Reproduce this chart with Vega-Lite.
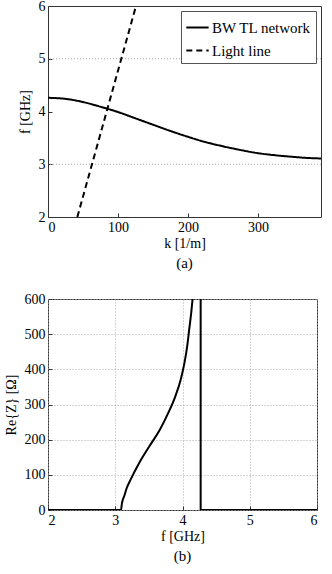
{
  "$schema": "https://vega.github.io/schema/vega-lite/v6.json",
  "padding": {"left": 3, "top": -2, "right": 0, "bottom": 0},
  "background": "white",
  "align": "none",
  "spacing": 19,
  "resolve": {"legend": {"strokeDash": "independent"}, "scale": {"x": "independent", "y": "independent"}},
  "config": {
    "font": "Liberation Serif",
    "view": {"stroke": "#333", "strokeWidth": 1},
    "axis": {
      "labelFont": "Liberation Serif", "labelFontSize": 14, "labelColor": "black",
      "titleFont": "Liberation Serif", "titleFontSize": 14, "titleFontWeight": "normal", "titleColor": "black",
      "domain": false, "tickColor": "#333", "tickSize": -4, "labelPadding": 7, "format": "d",
      "gridColor": "#aaa", "gridDash": [1, 2], "gridWidth": 1
    },
    "title": {"font": "Liberation Serif", "fontSize": 15, "fontWeight": "normal", "color": "black"}
  },
  "vconcat": [
    {
      "width": 273, "height": 211,
      "title": {"text": "(a)", "orient": "bottom", "offset": 6},
      "layer": [
        {
          "data": {"values": [{"g": 3}, {"g": 5}]},
          "mark": {"type": "rule", "color": "#aaa", "strokeDash": [1, 2], "strokeWidth": 1},
          "encoding": {"y": {"field": "g", "type": "quantitative", "scale": {"domain": [2, 6], "nice": false}}}
        },
        {
          "data": {"values": [
            {"k": 0, "f": 4.26, "series": "BW TL network"},
            {"k": 25, "f": 4.24, "series": "BW TL network"},
            {"k": 50, "f": 4.18, "series": "BW TL network"},
            {"k": 75, "f": 4.09, "series": "BW TL network"},
            {"k": 100, "f": 3.99, "series": "BW TL network"},
            {"k": 125, "f": 3.87, "series": "BW TL network"},
            {"k": 150, "f": 3.75, "series": "BW TL network"},
            {"k": 175, "f": 3.63, "series": "BW TL network"},
            {"k": 200, "f": 3.52, "series": "BW TL network"},
            {"k": 225, "f": 3.42, "series": "BW TL network"},
            {"k": 250, "f": 3.34, "series": "BW TL network"},
            {"k": 275, "f": 3.27, "series": "BW TL network"},
            {"k": 300, "f": 3.21, "series": "BW TL network"},
            {"k": 325, "f": 3.17, "series": "BW TL network"},
            {"k": 350, "f": 3.14, "series": "BW TL network"},
            {"k": 370, "f": 3.12, "series": "BW TL network"},
            {"k": 390, "f": 3.11, "series": "BW TL network"},
            {"k": 41.9, "f": 2, "series": "Light line"},
            {"k": 125.7, "f": 6, "series": "Light line"}
          ]},
          "mark": {"type": "line", "color": "black", "strokeWidth": 2, "clip": true, "interpolate": "monotone"},
          "encoding": {
            "x": {"field": "k", "type": "quantitative",
                  "scale": {"domain": [0, 390], "nice": false},
                  "axis": {"values": [0, 100, 200, 300], "title": "k [1/m]", "grid": false, "titlePadding": 2}},
            "y": {"field": "f", "type": "quantitative",
                  "scale": {"domain": [2, 6], "nice": false},
                  "axis": {"values": [2, 3, 4, 5, 6], "title": "f [GHz]", "grid": false, "minExtent": 13, "titlePadding": 3}},
            "strokeDash": {"field": "series", "type": "nominal",
                  "scale": {"domain": ["BW TL network", "Light line"], "range": [[1, 0], [6, 4]]},
                  "legend": {"title": null, "orient": "top-right", "offset": 5,
                             "fillColor": "white", "strokeColor": "#555", "padding": 4,
                             "labelFont": "Liberation Serif", "labelFontSize": 15, "labelColor": "black",
                             "symbolType": "stroke", "symbolSize": 500, "symbolStrokeWidth": 2,
                             "symbolStrokeColor": "black", "rowPadding": 2, "labelOffset": 2}}
          }
        }
      ]
    },
    {
      "width": 269, "height": 211,
      "title": {"text": "(b)", "orient": "bottom", "offset": 6},
      "encoding": {
        "x": {"field": "f", "type": "quantitative",
              "scale": {"domain": [2, 6], "nice": false},
              "axis": {"values": [2, 3, 4, 5, 6], "title": "f [GHz]", "grid": true, "titlePadding": 2}},
        "y": {"field": "re", "type": "quantitative",
              "scale": {"domain": [0, 600], "nice": false},
              "axis": {"values": [0, 100, 200, 300, 400, 500, 600], "title": "Re{Z} [Ω]", "grid": true, "titlePadding": 6}},
        "order": {"field": "i", "type": "quantitative"}
      },
      "layer": [
        {
          "data": {"values": [
            {"i": 1, "f": 2, "re": 0},
            {"i": 2, "f": 3.085, "re": 0},
            {"i": 3, "f": 3.1, "re": 20},
            {"i": 4, "f": 3.134, "re": 40},
            {"i": 5, "f": 3.17, "re": 62},
            {"i": 6, "f": 3.23, "re": 87},
            {"i": 7, "f": 3.36, "re": 135},
            {"i": 8, "f": 3.51, "re": 182},
            {"i": 9, "f": 3.665, "re": 229},
            {"i": 10, "f": 3.79, "re": 277},
            {"i": 11, "f": 3.895, "re": 324},
            {"i": 12, "f": 3.975, "re": 372},
            {"i": 13, "f": 4.03, "re": 419},
            {"i": 14, "f": 4.07, "re": 466},
            {"i": 15, "f": 4.10, "re": 514},
            {"i": 16, "f": 4.13, "re": 561},
            {"i": 17, "f": 4.15, "re": 600}
          ]},
          "mark": {"type": "line", "color": "black", "strokeWidth": 2, "clip": true, "interpolate": "monotone"}
        },
        {
          "data": {"values": [
            {"i": 1, "f": 4.27, "re": 600},
            {"i": 2, "f": 4.27, "re": 0},
            {"i": 3, "f": 6, "re": 0}
          ]},
          "mark": {"type": "line", "color": "black", "strokeWidth": 2, "clip": true}
        }
      ]
    }
  ]
}
